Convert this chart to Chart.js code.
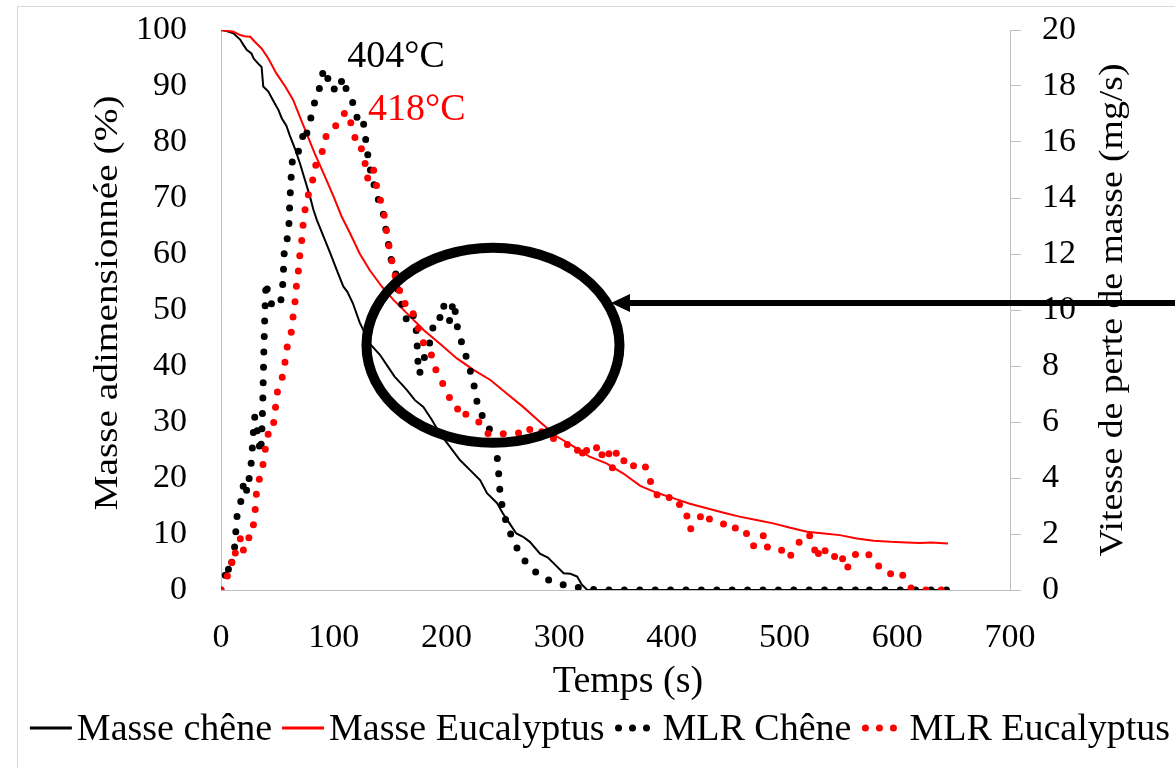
<!DOCTYPE html>
<html>
<head>
<meta charset="utf-8">
<title>Masse et MLR</title>
<script src="https://cdn.jsdelivr.net/npm/chart.js@4.4.1/dist/chart.umd.min.js"></script>
<style>
    html, body { margin: 0; padding: 0; background: #fff; }
</style>
</head>
<body>
<canvas id="massChart" width="1175" height="768"></canvas>
<script>
// Masse adimensionnée (%) - chêne
const tempsMasseChene = [0, 5, 11, 17, 20, 23, 27, 29, 33, 36, 37.5, 42, 46, 51, 54, 58, 61, 66, 70, 74.5, 79, 82, 85, 91, 97, 103, 108.5, 112, 117, 123, 132, 141, 150, 154, 160, 165, 172, 179.5, 187, 194, 203, 212, 221, 230, 236, 245, 250, 256, 262, 268, 274, 283, 290, 295, 304, 310, 316, 320, 325, 645];
const masseChene = [100, 99.8, 99.4, 98.3, 97.3, 96.4, 95.8, 94.9, 94.0, 93.4, 89.9, 89.0, 87.5, 85.7, 84.2, 82.9, 81.2, 78.6, 76.2, 73.2, 70.2, 67.9, 66.1, 63.1, 60.1, 57.0, 54.2, 53.3, 51.2, 47.8, 44.0, 42.0, 39.3, 38.1, 36.8, 35.7, 33.9, 32.7, 30.4, 28.0, 25.6, 23.2, 21.4, 19.6, 17.3, 15.5, 13.7, 11.9, 10.1, 9.5, 8.6, 6.5, 5.8, 4.8, 3.0, 2.9, 2.4, 1.0, 0, 0];

// Masse adimensionnée (%) - eucalyptus
const tempsMasseEuca = [0, 11, 17, 21, 26, 30, 36, 42, 49, 57, 64, 70, 76, 83, 91, 100, 107, 114.5, 123, 132, 142.6, 153, 165, 180, 194, 209, 224, 239, 253.5, 268, 283, 298, 313, 327, 342, 357, 372, 386, 401, 416, 431, 446, 460, 475, 490, 505, 520, 535, 549, 564, 579, 594, 608, 620, 630, 645];
const masseEuca = [100, 99.7, 99.1, 98.9, 98.8, 97.9, 96.7, 94.9, 92.3, 89.9, 87.5, 84.5, 81.5, 78.0, 74.4, 70.2, 66.7, 63.7, 60.1, 57.1, 54.2, 51.8, 49.4, 46.4, 44.0, 41.4, 39.3, 37.5, 35.1, 32.7, 30.0, 27.4, 25.6, 23.8, 22.6, 20.8, 18.6, 17.4, 16.4, 15.4, 14.6, 13.8, 13.1, 12.5, 11.9, 11.1, 10.4, 10.1, 9.8, 9.2, 8.8, 8.6, 8.5, 8.4, 8.5, 8.3];

// Vitesse de perte de masse (mg/s) - chêne
const tempsMlrChene = [0, 3, 5, 8, 10, 12, 13, 14, 17, 19, 21, 23, 25, 27, 28, 29, 30, 32, 35, 36, 37, 38, 39, 40, 42, 45, 50, 53, 55, 56, 60, 61, 62, 63, 64, 68, 71, 74, 76, 80, 83, 88, 91, 94, 96, 100, 104, 108, 111, 117, 122, 126, 128, 130, 132, 135, 138, 142, 145, 147, 150, 152, 155, 157, 161, 165, 170, 173, 174, 175, 176, 178, 182, 185, 187, 190, 194, 197, 200, 203, 206, 208, 210, 213, 215, 217, 220, 222, 224, 226, 228, 235, 240, 244, 246, 247, 249, 251, 255, 259, 265, 273, 284, 296, 310, 324, 335, 565, 570, 575, 645];
const mlrChene = [0, 0.3, 0.9, 0.6, 1.1, 1.5, 2.0, 2.6, 3.0, 3.6, 3.9, 3.5, 4.0, 4.6, 5.2, 5.8, 6.2, 5.7, 4.9, 5.4, 6.6, 8.5, 10.0, 11.0, 10.5, 10.2, 10.1, 10.3, 11.0, 12.0, 12.8, 13.8, 14.6, 15.2, 15.6, 15.6, 15.9, 16.5, 16.3, 16.9, 17.4, 18.0, 18.6, 18.5, 17.9, 17.9, 17.8, 18.3, 17.9, 17.4, 16.7, 16.8, 16.2, 15.6, 15.1, 14.6, 14.1, 13.7, 13.3, 12.6, 12.1, 11.5, 11.3, 10.7, 10.1, 9.6, 9.9, 9.4, 8.8, 7.9, 7.7, 8.0, 8.5, 8.8, 9.2, 9.7, 9.7, 10.2, 9.9, 9.6, 10.3, 9.9, 9.3, 8.9, 8.7, 8.4, 8.0, 7.7, 7.4, 7.0, 6.5, 6.0, 5.6, 5.1, 4.4, 3.7, 3.1, 2.7, 2.2, 1.8, 1.3, 0.85, 0.48, 0.26, 0.12, 0.05, 0, 0, 0.1, 0, 0];

// Vitesse de perte de masse (mg/s) - eucalyptus
const tempsMlrEuca = [0, 3, 5, 9, 12, 13, 18, 20, 23, 26, 28, 30, 31, 32, 36, 38, 40, 43, 46, 48, 49, 52, 55, 57, 59, 63, 64, 66, 67, 69, 70, 72, 73, 75, 78, 81, 83, 89, 92, 97, 103, 107, 111, 114, 118, 120, 125, 128, 130, 135, 137, 140, 144, 146, 148, 151, 153, 158, 160, 165, 168, 172, 177, 181, 186, 189, 195, 199, 203, 209, 211, 216, 222, 228, 235, 241, 247, 252, 259, 265, 270, 275, 280, 288, 297, 303, 309, 315, 319, 322, 326, 333, 336, 339, 344, 347, 349, 351, 357, 361, 366, 375, 380, 383, 392, 395, 405, 409, 413, 416, 423, 429, 434, 441, 446, 451, 456, 459, 465, 468, 471, 476, 482, 485, 491, 501, 504, 509, 514, 518, 522, 526, 528, 533, 537, 540, 543, 547, 551, 555, 560, 569, 580, 585, 593, 601, 607, 611, 615, 640];
const mlrEuca = [0, 0.2, 0.4, 1.0, 0.9, 1.5, 1.9, 1.4, 1.55, 2.1, 2.1, 2.7, 3.2, 3.8, 4.1, 4.7, 5.2, 5.8, 5.8, 6.3, 6.9, 7.4, 7.65, 8.2, 8.75, 9.3, 9.8, 10.4, 10.9, 11.5, 12.0, 12.6, 13.15, 13.7, 14.2, 14.55, 15.1, 15.5, 16.1, 16.5, 16.6, 16.9, 17.1, 16.8, 16.4, 15.8, 15.75, 15.2, 14.7, 15.1, 14.6, 14.1, 13.6, 13.05, 12.5, 11.9, 11.4, 10.8, 10.3, 10.2, 10.2, 9.65, 9.15, 8.65, 8.5, 8.0, 7.5, 7.2, 6.85, 6.7, 6.2, 6.3, 6.2, 6.05, 5.6, 5.58, 5.55, 5.6, 5.62, 5.6, 5.5, 5.8, 5.6, 5.7, 5.33, 5.25, 5.18, 4.9, 5.2, 4.67, 5.2, 5.07, 5.2, 4.64, 4.9, 4.35, 4.46, 4.97, 4.6, 4.74, 4.44, 4.55, 4.05, 3.55, 3.2, 3.3, 3.3, 2.75, 2.7, 2.15, 2.5, 2.8, 2.5, 2.45, 2.35, 2.45, 2.24, 2.0, 2.05, 1.96, 1.58, 1.58, 2.0, 1.5, 1.5, 1.37, 1.13, 1.5, 1.76, 2.0, 1.96, 1.64, 1.1, 1.6, 1.33, 1.2, 1.31, 0.98, 1.17, 0.71, 1.21, 1.4, 1.13, 0.74, 0.56, 0.71, 0.42, 0.1, 0, 0];

// Peak temperature labels (time, left-axis level of the baseline)
const peakLabels = ['404°C', '418°C'];
const peakTimes = [112, 130.5];
const peakLevels = [93.4, 84.0];
const peakColors = ['#000000', '#FF0000'];

// Circled zone and arrow (time / mass for the ellipse, MLR level for the arrow)
const zoneCentre = [241.3, 43.7];
const arrowTipTime = 346;
const arrowLevel = 10.25;

const SERIF = '"Liberation Serif", "Times New Roman", serif';
const AXIS_GREY = '#BFBFBF';

const toPoints = (xs, ys) => xs.map((t, i) => ({ x: t, y: ys[i] }));

// Gray frame, axis titles, peak labels, ellipse + arrow, legend
const extras = {
    id: 'extras',
    afterDatasetsDraw(chart) {
        const { ctx, scales: { x, y, y1 } } = chart;
        ctx.save();

        // peak labels
        ctx.font = `38px ${SERIF}`;
        ctx.textAlign = 'left';
        ctx.textBaseline = 'alphabetic';
        peakLabels.forEach((label, i) => {
            ctx.fillStyle = peakColors[i];
            ctx.fillText(label, x.getPixelForValue(peakTimes[i]), y.getPixelForValue(peakLevels[i]));
        });

        // ellipse round the shoulder zone
        ctx.beginPath();
        ctx.ellipse(x.getPixelForValue(zoneCentre[0]), y.getPixelForValue(zoneCentre[1]), 126.5, 97.5, 0, 0, Math.PI * 2);
        ctx.lineWidth = 10;
        ctx.strokeStyle = '#000';
        ctx.stroke();

        // arrow pointing at the ellipse
        const tipX = x.getPixelForValue(arrowTipTime);
        const ay = y1.getPixelForValue(arrowLevel);
        ctx.beginPath();
        ctx.moveTo(tipX + 15, ay);
        ctx.lineTo(chart.width, ay);
        ctx.lineWidth = 6;
        ctx.stroke();
        ctx.beginPath();
        ctx.moveTo(tipX, ay);
        ctx.lineTo(tipX + 19, ay - 9);
        ctx.lineTo(tipX + 19, ay + 9);
        ctx.closePath();
        ctx.fillStyle = '#000';
        ctx.fill();
        ctx.restore();
    },
    afterDraw(chart) {
        const { ctx, chartArea } = chart;
        ctx.save();

        // outer chart frame
        ctx.strokeStyle = '#D9D9D9';
        ctx.lineWidth = 1;
        ctx.strokeRect(17.5, 6.5, 2000, 2000);

        // rotated axis titles (stretched along their length like the original)
        const drawRotated = (text, cx, cy, length) => {
            ctx.save();
            ctx.font = `34px ${SERIF}`;
            ctx.fillStyle = '#000';
            ctx.translate(cx, cy);
            ctx.rotate(-Math.PI / 2);
            ctx.scale(length / ctx.measureText(text).width, 1);
            ctx.textAlign = 'center';
            ctx.textBaseline = 'alphabetic';
            ctx.fillText(text, 0, 0);
            ctx.restore();
        };
        drawRotated('Masse adimensionnée (%)', 117, 303, 415);
        drawRotated('Vitesse de perte de masse (mg/s)', 1122, (chartArea.top + chartArea.bottom) / 2, 493);

        // x axis title
        ctx.font = `38px ${SERIF}`;
        ctx.fillStyle = '#000';
        ctx.textAlign = 'center';
        ctx.textBaseline = 'alphabetic';
        ctx.fillText('Temps (s)', 628, 692);

        // legend at the bottom
        ctx.textAlign = 'left';
        const items = chart.data.datasets.map((ds) => {
            const dotted = Array.isArray(ds.borderDash);
            const sample = dotted ? 36 : 42;
            const gap = dotted ? 12 : 5;
            return { ds, dotted, sample, gap, w: sample + gap + ctx.measureText(ds.label).width };
        });
        const spacing = 10;
        const total = items.reduce((s, it) => s + it.w, 0) + spacing * (items.length - 1);
        let cx = 600 - total / 2;
        const lineY = 728;
        items.forEach((it) => {
            if (it.dotted) {
                ctx.fillStyle = it.ds.borderColor;
                for (let k = 0; k < 3; k++) {
                    ctx.beginPath();
                    ctx.arc(cx + 4 + k * 14, lineY, 3.5, 0, Math.PI * 2);
                    ctx.fill();
                }
            } else {
                ctx.strokeStyle = it.ds.borderColor;
                ctx.lineWidth = 3;
                ctx.beginPath();
                ctx.moveTo(cx, lineY);
                ctx.lineTo(cx + it.sample, lineY);
                ctx.stroke();
            }
            ctx.fillStyle = '#000';
            ctx.fillText(it.ds.label, cx + it.sample + it.gap, 740);
            cx += it.w + spacing;
        });
        ctx.restore();
    }
};

// keep the plot area exactly where the original has it
const fixWidth = (w) => (scale) => {
    scale.width = w;
    scale.paddingTop = 0;
    scale.paddingBottom = 0;
};

function drawChart() {
    const ctx = document.getElementById('massChart').getContext('2d');
    const tickFont = { family: SERIF, size: 34 };

    new Chart(ctx, {
        type: 'line',
        data: {
            datasets: [
                {
                    label: 'Masse chêne',
                    data: toPoints(tempsMasseChene, masseChene),
                    borderColor: '#000000',
                    borderWidth: 2,
                    yAxisID: 'y',
                    order: 3,
                },
                {
                    label: 'Masse Eucalyptus',
                    data: toPoints(tempsMasseEuca, masseEuca),
                    borderColor: '#FF0000',
                    borderWidth: 2,
                    yAxisID: 'y',
                    order: 2,
                },
                {
                    label: 'MLR Chêne',
                    data: toPoints(tempsMlrChene, mlrChene),
                    borderColor: '#000000',
                    borderWidth: 7,
                    borderDash: [0, 15.4],
                    borderCapStyle: 'round',
                    borderJoinStyle: 'round',
                    yAxisID: 'y1',
                    order: 1,
                },
                {
                    label: 'MLR Eucalyptus',
                    data: toPoints(tempsMlrEuca, mlrEuca),
                    borderColor: '#FF0000',
                    borderWidth: 7,
                    borderDash: [0, 15.4],
                    borderCapStyle: 'round',
                    borderJoinStyle: 'round',
                    yAxisID: 'y1',
                    order: 0,
                },
            ],
        },
        options: {
            responsive: false,
            animation: false,
            layout: { padding: { top: 30, left: 0, right: 0, bottom: 0 } },
            elements: { point: { radius: 0 }, line: { tension: 0 } },
            plugins: {
                legend: { display: false },
                tooltip: { enabled: false },
            },
            scales: {
                x: {
                    type: 'linear',
                    min: 0,
                    max: 700,
                    ticks: { stepSize: 100, padding: 28, maxRotation: 0, font: tickFont, color: '#000' },
                    grid: { display: false, drawTicks: false },
                    border: { display: true, color: AXIS_GREY, width: 1 },
                    afterFit: (scale) => { scale.height = 178; },
                },
                y: {
                    position: 'left',
                    min: 0,
                    max: 100,
                    ticks: { stepSize: 10, padding: 34, font: tickFont, color: '#000' },
                    grid: { display: false, drawTicks: false },
                    border: { display: true, color: AXIS_GREY, width: 1 },
                    afterFit: fixWidth(221),
                },
                y1: {
                    position: 'right',
                    min: 0,
                    max: 20,
                    ticks: { stepSize: 2, padding: 21, font: tickFont, color: '#000' },
                    grid: { display: true, drawOnChartArea: false, drawTicks: true, tickLength: 11, color: AXIS_GREY },
                    border: { display: true, color: AXIS_GREY, width: 1 },
                    afterFit: fixWidth(165),
                },
            },
        },
        plugins: [extras],
    });
}

document.addEventListener('DOMContentLoaded', () => {
    drawChart();
});
</script>
</body>
</html>
